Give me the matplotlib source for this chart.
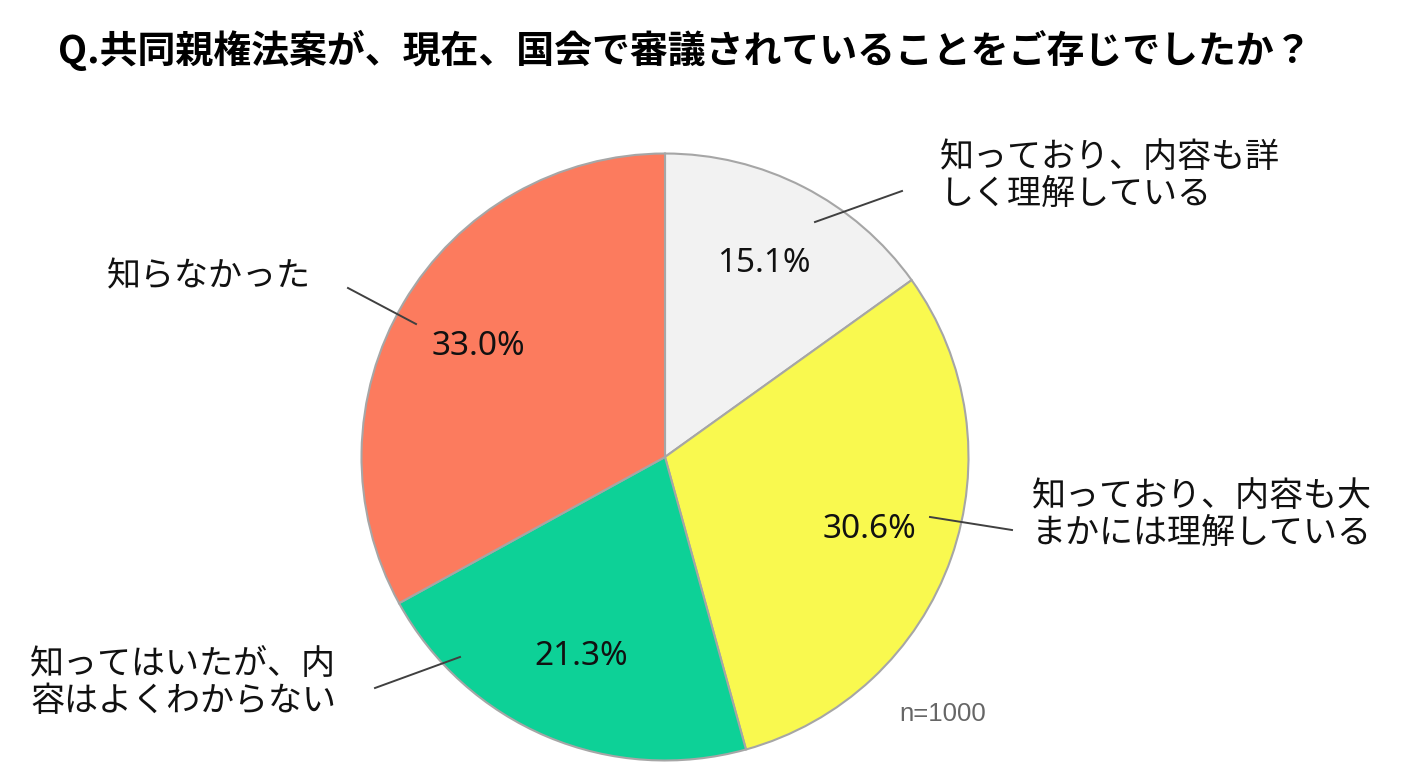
import matplotlib.pyplot as plt
from matplotlib.lines import Line2D

plt.rcParams['font.family'] = ['Noto Sans CJK JP', 'DejaVu Sans']

# survey answers (clockwise from 12 o'clock)
labels = ['知っており、内容も詳\nしく理解している',
          '知っており、内容も大\nまかには理解している',
          '知ってはいたが、内\n容はよくわからない',
          '知らなかった']
shares = [15.1, 30.6, 21.3, 33.0]
colors = ['#f2f2f2', '#f9f94f', '#0dd197', '#fc7b5e']
title = 'Q.共同親権法案が、現在、国会で審議されていることをご存じでしたか？'
note = 'n=1000'

W, H = 1410, 780
fig = plt.figure(figsize=(W / 100, H / 100), dpi=100)

def fx(x):
    return x / W

def fy(y):
    return 1 - y / H

# pie placed at centre (665, 457), radius 305 px
cx, cy, r = 665, 457, 305
ax = fig.add_axes([fx(cx - r), fy(cy + r), 2 * r / W, 2 * r / H])
wedges, texts, autotexts = ax.pie(
    shares, colors=colors, startangle=90, counterclock=False,
    autopct='%.1f%%', pctdistance=0.715,
    wedgeprops=dict(edgecolor='#a6a6a6', linewidth=1.5),
    textprops=dict(fontsize=24, color='#111111', family=['Noto Sans', 'DejaVu Sans']))
ax.set_xlim(-1.005, 1.005)
ax.set_ylim(-1.005, 1.005)
ax.set_aspect('auto')
ax.axis('off')

fig.text(fx(58), fy(50), title, fontsize=27.3, fontweight='bold',
         ha='left', va='center', color='black')

# category labels and leader lines
label_pos = [(940, 176), (1032, 515), (30, 683), (107, 277)]
leaders = [((815, 222), (902, 191)),
           ((930, 517), (1012, 530)),
           ((460, 657), (375, 688)),
           ((416, 324), (348, 288))]
for lab, (tx, ty), (p0, p1) in zip(labels, label_pos, leaders):
    fig.text(fx(tx), fy(ty), lab, fontsize=24.5, ha='left', va='center',
             linespacing=1.1, color='#111111')
    fig.add_artist(Line2D([fx(p0[0]), fx(p1[0])], [fy(p0[1]), fy(p1[1])],
                          color='#404040', linewidth=1.4))

fig.text(fx(943), fy(714), note, fontsize=18.5, color='#666666',
         ha='center', va='center', family=['Liberation Sans', 'DejaVu Sans'])

fig.savefig('out.png', dpi=100, facecolor='white')
